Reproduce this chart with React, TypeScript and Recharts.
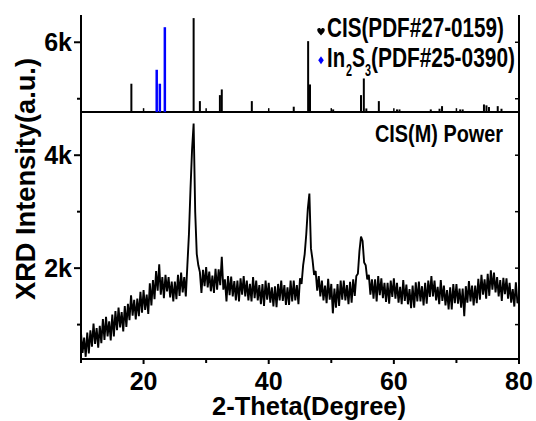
import React from 'react';
import { ComposedChart, Line, XAxis, YAxis, ReferenceLine } from 'recharts';

// measured pattern, 10..80 deg, 0.25 deg step
const twoThetaStart = 10;
const twoThetaStep = 0.25;
const intensity = [
  850, 500, 770, 430, 860, 490, 900, 610, 1020, 660, 940, 590, 980, 670, 1100, 730,
  1140, 790, 1060, 720, 1180, 790, 1240, 900, 1300, 950, 1220, 880, 1330, 960, 1370, 1080,
  1520, 1160, 1440, 1090, 1460, 1150, 1580, 1210, 1610, 1260, 1530, 1190, 1730, 1340, 1790, 1450,
  1950, 1600, 2070, 1530, 1840, 1470, 1880, 1590, 1840, 1480, 1760, 1410, 1760, 1450, 1880, 1510,
  1920, 1570, 1840, 1500, 2050, 2600, 3400, 4100, 4560, 3000, 2250, 2050, 1930, 1560, 1970, 1680,
  2020, 1660, 1940, 1590, 1870, 1560, 1990, 1620, 1980, 1700, 2200, 1620, 1800, 1410, 1860, 1520,
  1850, 1500, 1770, 1430, 1780, 1410, 1820, 1530, 1860, 1500, 1780, 1430, 1720, 1410, 1840, 1470,
  1780, 1430, 1700, 1360, 1720, 1330, 1780, 1440, 1740, 1390, 1660, 1320, 1680, 1310, 1720, 1430,
  1780, 1420, 1700, 1350, 1660, 1350, 1780, 1410, 1780, 1430, 1700, 1360, 1820, 1720, 2050, 2250,
  2600, 3050, 3320, 2350, 2150, 1880, 1950, 1600, 1860, 1500, 1780, 1430, 1690, 1380, 1810, 1440,
  1720, 1200, 1640, 1300, 1720, 1330, 1780, 1440, 1780, 1430, 1700, 1360, 1760, 1390, 1800, 1510,
  1860, 1900, 2300, 2560, 2480, 2100, 2050, 1800, 1880, 1530, 1800, 1460, 1800, 1410, 1860, 1520,
  1820, 1470, 1740, 1400, 1740, 1370, 1780, 1490, 1820, 1460, 1740, 1390, 1670, 1360, 1790, 1420,
  1710, 1360, 1630, 1290, 1690, 1300, 1750, 1410, 1760, 1410, 1680, 1340, 1740, 1370, 1780, 1490,
  1860, 1500, 1780, 1430, 1670, 1360, 1790, 1420, 1690, 1340, 1610, 1270, 1660, 1270, 1720, 1380,
  1720, 1370, 1640, 1300, 1640, 1150, 1680, 1390, 1770, 1410, 1690, 1340, 1690, 1380, 1810, 1440,
  1880, 1530, 1800, 1460, 1900, 1510, 1960, 1620, 1920, 1570, 1840, 1500, 1790, 1420, 1830, 1540,
  1820, 1460, 1740, 1390, 1630, 1320, 1750, 1380, 1480,
];

// reference sticks (height above the panel base)
const cisPeaks = [18.05, 28.0, 29.0, 32.2, 32.5, 37.3, 44.0, 46.3, 46.6, 50.3, 54.75, 55.2, 55.6, 57.6, 60.5, 60.9, 65.9, 67.3, 67.7, 70.6, 71.0, 74.4, 74.8, 75.2, 76.6, 77.2];
const cisHeights = [503, 1665, 195, 301, 402, 195, 96, 1257, 490, 48, 301, 596, 65, 195, 48, 48, 48, 60, 106, 48, 48, 136, 120, 90, 106, 60];
const in2s3Peaks = [22.1, 22.6, 23.4];
const in2s3Heights = [750, 503, 1504];

const panelBase = 4763;
const yDomain = [391, 6483];
const xTicks = [10, 20, 30, 40, 50, 60, 70, 80];
const xLabeled = [20, 40, 60, 80];
const yTicks = [1000, 2000, 3000, 4000, 5000, 6000];
const yLabels: Record<number, string> = { 2000: '2k', 4000: '4k', 6000: '6k' };

const data = intensity.map((v, i) => ({ tt: twoThetaStart + i * twoThetaStep, v }));

const font = '"Liberation Sans", Arial, Helvetica, sans-serif';

const LeftTick = (props: any) => {
  const { x, y, payload } = props;
  const ax = x + 9;
  const label = yLabels[payload.value];
  return (
    <g>
      <line x1={ax - (label ? 7 : 4)} x2={ax} y1={y} y2={y} stroke="#000" strokeWidth={2} />
      {label && (
        <text x={x} y={y + 9} textAnchor="end" fontFamily={font} fontWeight="bold" fontSize={25} fill="#000">
          {label}
        </text>
      )}
    </g>
  );
};

const RightTick = (props: any) => {
  const { x, y } = props;
  return <line x1={x - 4} x2={x} y1={y} y2={y} stroke="#000" strokeWidth={1.5} />;
};

const BottomTick = (props: any) => {
  const { x, y, payload } = props;
  const ay = y - 5;
  const major = xLabeled.includes(payload.value);
  return (
    <g>
      <line x1={x} x2={x} y1={ay} y2={ay + (major ? 5 : 4)} stroke="#000" strokeWidth={2} />
      {major && (
        <text x={x} y={ay + 31} textAnchor="middle" fontFamily={font} fontWeight="bold" fontSize={25} fill="#000">
          {payload.value}
        </text>
      )}
    </g>
  );
};

const heart = (cx: number, cy: number) =>
  `M ${cx} ${cy + 4} C ${cx - 1.2} ${cy + 2.4} ${cx - 3.8} ${cy + 0.3} ${cx - 3.8} ${cy - 1.6} C ${cx - 3.8} ${cy - 3.9} ${cx - 0.9} ${cy - 4.4} ${cx} ${cy - 2.1} C ${cx + 0.9} ${cy - 4.4} ${cx + 3.8} ${cy - 3.9} ${cx + 3.8} ${cy - 1.6} C ${cx + 3.8} ${cy + 0.3} ${cx + 1.2} ${cy + 2.4} ${cx} ${cy + 4} Z`;

export default function App() {
  return (
    <div style={{ position: 'absolute', left: 0, top: 0, width: 536, height: 421, background: '#fff' }}>
      <ComposedChart width={536} height={421} data={data} margin={{ top: 15, right: 0, bottom: 0, left: 0 }}>
        <XAxis
          dataKey="tt"
          type="number"
          domain={[10, 80]}
          ticks={xTicks}
          interval={0}
          height={62}
          tickSize={5}
          tickMargin={0}
          tickLine={false}
          tick={<BottomTick />}
          axisLine={{ stroke: '#000', strokeWidth: 2 }}
        />
        <XAxis
          xAxisId="top"
          orientation="top"
          dataKey="tt"
          type="number"
          domain={[10, 80]}
          height={0}
          tick={false}
          tickLine={false}
          axisLine={{ stroke: '#000', strokeWidth: 2 }}
        />
        <YAxis
          type="number"
          domain={yDomain}
          ticks={yTicks}
          interval={0}
          width={81}
          tickSize={7}
          tickMargin={2}
          tickLine={false}
          tick={<LeftTick />}
          axisLine={{ stroke: '#000', strokeWidth: 2 }}
          allowDataOverflow
        />
        <YAxis
          yAxisId="right"
          orientation="right"
          type="number"
          domain={yDomain}
          ticks={yTicks}
          interval={0}
          width={17}
          tickSize={0}
          tickMargin={0}
          tickLine={false}
          tick={<RightTick />}
          axisLine={{ stroke: '#000', strokeWidth: 2 }}
          allowDataOverflow
        />
        <ReferenceLine y={panelBase} stroke="#000" strokeWidth={2} />
        {xTicks.slice(1, -1).map((t) => (
          <ReferenceLine key={'dt' + t} segment={[{ x: t, y: panelBase }, { x: t, y: panelBase + 70 }]} stroke="#000" strokeWidth={1.5} />
        ))}
        {cisPeaks.map((p, i) => (
          <ReferenceLine key={'c' + i} segment={[{ x: p, y: panelBase }, { x: p, y: panelBase + cisHeights[i] }]} stroke="#000" strokeWidth={2} />
        ))}
        {in2s3Peaks.map((p, i) => (
          <ReferenceLine key={'i' + i} segment={[{ x: p, y: panelBase }, { x: p, y: panelBase + in2s3Heights[i] }]} stroke="#0000FF" strokeWidth={2.5} />
        ))}
        <Line dataKey="v" stroke="#000" strokeWidth={1.9} dot={false} activeDot={false} isAnimationActive={false} />
      </ComposedChart>
      <svg width={536} height={421} style={{ position: 'absolute', left: 0, top: 0, pointerEvents: 'none' }}>
        <g fontFamily={font} fontWeight="bold" fill="#000">
          <path d={heart(321, 31.5)} fill="#000" />
          <text x={327} y={36.5} fontSize={27} textLength={177} lengthAdjust="spacingAndGlyphs">CIS(PDF#27-0159)</text>
          <path d="M 321 56.3 L 323.8 60.3 L 321 64.3 L 318.2 60.3 Z" fill="#0000FF" />
          <text x={327} y={66.7} fontSize={28} textLength={18} lengthAdjust="spacingAndGlyphs">In</text>
          <text x={346} y={75.5} fontSize={17} textLength={6} lengthAdjust="spacingAndGlyphs">2</text>
          <text x={352} y={66.7} fontSize={28} textLength={13} lengthAdjust="spacingAndGlyphs">S</text>
          <text x={365} y={75.5} fontSize={17} textLength={6} lengthAdjust="spacingAndGlyphs">3</text>
          <text x={371} y={66.7} fontSize={28} textLength={144} lengthAdjust="spacingAndGlyphs">(PDF#25-0390)</text>
          <text x={375} y={141.7} fontSize={23} textLength={128} lengthAdjust="spacingAndGlyphs">CIS(M) Power</text>
          <text x={212} y={415} fontSize={25} textLength={194} lengthAdjust="spacingAndGlyphs">2-Theta(Degree)</text>
          <text transform="translate(35,179) rotate(-90)" textAnchor="middle" fontSize={27} textLength={242} lengthAdjust="spacingAndGlyphs">XRD Intensity(a.u.)</text>
        </g>
      </svg>
    </div>
  );
}
